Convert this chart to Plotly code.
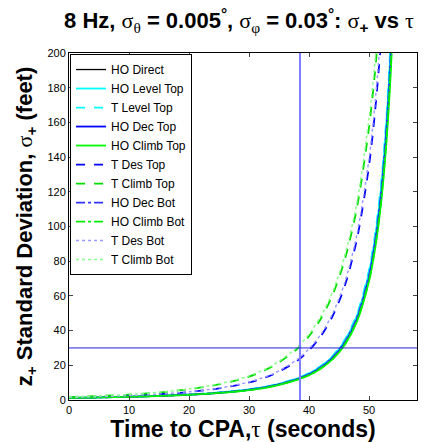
import plotly.graph_objects as go

tau = [0, 5, 10, 15, 20, 25, 30, 34, 38, 40, 42, 44, 46, 48, 50, 51, 52, 53, 54, 55]

ho_direct = [1.23, 1.50, 1.86, 2.36, 3.07, 4.16, 5.89, 8.14, 11.9, 14.7, 18.7, 24.4, 33.0, 46.7, 70.5, 89.5, 116.7, 158, 224, 338]
ho_level_top = [1.25, 1.53, 1.90, 2.42, 3.15, 4.28, 6.07, 8.40, 12.3, 15.2, 19.4, 25.3, 34.3, 48.6, 73.5, 93.4, 121.8, 165, 234, 353]
t_level_top = [1.28, 1.56, 1.94, 2.46, 3.20, 4.35, 6.17, 8.55, 12.5, 15.5, 19.7, 25.8, 35.0, 49.6, 75.0, 95.3, 124.3, 168, 239, 360]
ho_dec_top = [1.23, 1.50, 1.86, 2.36, 3.07, 4.16, 5.89, 8.14, 11.9, 14.7, 18.7, 24.4, 33.0, 46.7, 70.5, 89.5, 116.7, 158, 224, 338]
ho_climb_top = [1.20, 1.46, 1.81, 2.30, 2.99, 4.05, 5.73, 7.92, 11.6, 14.3, 18.2, 23.7, 32.0, 45.3, 68.4, 86.8, 113.2, 153, 217, 328]
t_des_top = [1.45, 1.86, 2.45, 3.31, 4.60, 6.65, 10.1, 14.7, 22.5, 28.6, 36.9, 48.8, 66.1, 92.8, 135, 166, 207, 262, 339, 448]
t_climb_top = [1.7, 2.3, 3.1, 4.3, 6.2, 9.0, 13.5, 19.5, 29.4, 36.8, 47.0, 61.1, 81.3, 111, 157, 189, 231, 285, 358, 456]
ho_dec_bot = [1.25, 1.52, 1.89, 2.40, 3.12, 4.23, 6.00, 8.30, 12.1, 15.0, 19.0, 24.9, 33.6, 47.6, 71.9, 91.2, 119.0, 161, 228, 345]
ho_climb_bot = [1.21, 1.47, 1.83, 2.32, 3.02, 4.09, 5.78, 8.00, 11.7, 14.4, 18.4, 23.9, 32.4, 45.8, 69.1, 87.7, 114.4, 155, 220, 331]
t_des_bot = [1.50, 1.92, 2.52, 3.41, 4.74, 6.85, 10.4, 15.1, 23.2, 29.5, 38.0, 50.3, 68.1, 95.6, 139, 171, 213, 270, 349, 461]
t_climb_bot = [1.75, 2.37, 3.19, 4.43, 6.39, 9.27, 13.9, 20.1, 30.3, 37.9, 48.4, 62.9, 83.7, 114, 162, 195, 238, 294, 369, 470]

series_names = ["HO Direct", "HO Level Top", "T Level Top", "HO Dec Top", "HO Climb Top",
                "T Des Top", "T Climb Top", "HO Dec Bot", "HO Climb Bot", "T Des Bot", "T Climb Bot"]
series_values = [ho_direct, ho_level_top, t_level_top, ho_dec_top, ho_climb_top,
                 t_des_top, t_climb_top, ho_dec_bot, ho_climb_bot, t_des_bot, t_climb_bot]
series_colors = ["#000000", "#00ffff", "#00ffff", "#0000ff", "#00ff00",
                 "#0000ff", "#00dd00", "#3333ff", "#00ee00", "#9999ff", "#88ff88"]
series_dash = ["solid", "solid", "dash", "solid", "solid",
               "dash", "dash", "dashdot", "dashdot", "dot", "dot"]
series_width = [1.3, 1.8, 1.8, 1.8, 1.8, 1.8, 1.8, 1.8, 1.8, 1.4, 1.4]

vline_x = 38.5
hline_y = 30

x_ticks = [0, 10, 20, 30, 40, 50]
y_ticks = [0, 20, 40, 60, 80, 100, 120, 140, 160, 180, 200]

FONT = "Liberation Sans, Arial, Helvetica, sans-serif"
SERIF = '<span style="font-family:Liberation Serif, DejaVu Serif, serif;font-weight:normal">'

def sym(ch):
    return SERIF + ch + "</span>"

fig = go.Figure()
for name, vals, col, dash, w in zip(series_names, series_values, series_colors, series_dash, series_width):
    fig.add_trace(go.Scatter(x=tau, y=vals, mode="lines", name=name,
                             line=dict(color=col, dash=dash, width=w, shape="spline", smoothing=0.8)))

fig.add_shape(type="line", xref="x", yref="paper", x0=vline_x, x1=vline_x, y0=0, y1=1,
              line=dict(color="#7f7fff", width=2))
fig.add_shape(type="line", xref="paper", yref="y", x0=0, x1=1, y0=hline_y, y1=hline_y,
              line=dict(color="#2222dd", width=1))

title_txt = ("<b>8 Hz, " + sym("σ") + "<sub>" + sym("θ") + "</sub> = 0.005<sup>°</sup>, "
             + sym("σ") + "<sub>" + sym("φ") + "</sub> = 0.03<sup>°</sup>: "
             + sym("σ") + "<sub>+</sub> vs " + sym("τ") + "</b>")
ytitle_txt = "<b>z<sub>+</sub> Standard Deviation, " + sym("σ") + "<sub>+</sub> (feet)</b>"
xtitle_txt = "<b>Time to CPA," + sym("τ") + " (seconds)</b>"

fig.update_layout(
    width=433, height=442,
    margin=dict(l=69, r=16, t=53, b=42),
    paper_bgcolor="white", plot_bgcolor="white",
    font=dict(family=FONT, size=11, color="black"),
    title=dict(text=title_txt,
               x=0.552, xanchor="center", y=0.953, yanchor="middle",
               font=dict(family=FONT, size=22, color="black")),
    xaxis=dict(range=[0, 58], tickvals=x_ticks, ticks="inside", ticklen=4, mirror="ticks",
               showline=True, linecolor="black", linewidth=1, showgrid=False, zeroline=False,
               tickfont=dict(size=11), automargin=False,
               title=dict(text=xtitle_txt, standoff=0,
                          font=dict(family=FONT, size=23))),
    yaxis=dict(range=[0, 200], tickvals=y_ticks, ticks="inside", ticklen=4, mirror="ticks",
               showline=True, linecolor="black", linewidth=1, showgrid=False, zeroline=False,
               tickfont=dict(size=11), automargin=False,
               title=dict(text=ytitle_txt, standoff=8,
                          font=dict(family=FONT, size=22))),
    legend=dict(x=0.003, y=0.997, xanchor="left", yanchor="top",
                bgcolor="white", bordercolor="black", borderwidth=1,
                font=dict(family=FONT, size=12), tracegroupgap=0, itemwidth=30),
    showlegend=True,
)

fig.write_html("out.html", config={"displayModeBar": False},
               post_script="document.body.style.margin='0';document.body.style.overflow='hidden';")
